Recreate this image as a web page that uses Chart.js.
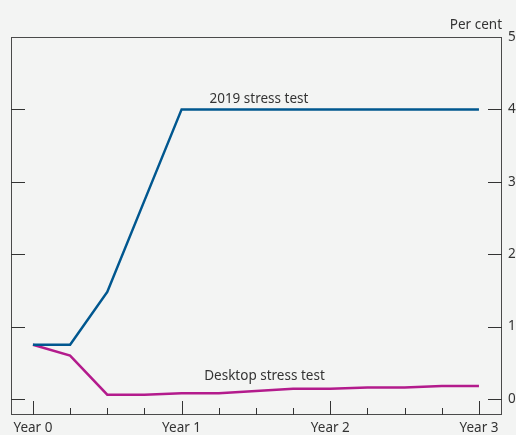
<!DOCTYPE html>
<html>
<head>
<meta charset="utf-8">
<script src="https://cdn.jsdelivr.net/npm/chart.js@4/dist/chart.umd.min.js"></script>
<style>
  html, body { margin: 0; padding: 0; background: #f3f4f3; }
  #wrap { width: 516px; height: 435px; }
</style>
</head>
<body>
<div id="wrap"><canvas id="stress-chart"></canvas></div>
<script>
// quarters since start of scenario
var quarters = [0, 1, 2, 3, 4, 5, 6, 7, 8, 9, 10, 11, 12];
var stress2019 = [0.75, 0.75, 1.48, 2.74, 4.0, 4.0, 4.0, 4.0, 4.0, 4.0, 4.0, 4.0, 4.0];
var desktopStress = [0.75, 0.6, 0.06, 0.06, 0.08, 0.08, 0.11, 0.14, 0.14, 0.16, 0.16, 0.18, 0.18];
var yearTicks = [0, 4, 8, 12];
var yearLabels = ['Year 0', 'Year 1', 'Year 2', 'Year 3'];
var yTicks = [0, 1, 2, 3, 4, 5];

// inline series labels (quarter, value)
var seriesLabels = [
  { text: '2019 stress test', x: 6.08, y: 4.14 },
  { text: 'Desktop stress test', x: 6.23, y: 0.31 }
];

var FONT = '"Noto Sans", "Open Sans", sans-serif';
var FSIZE = 13.5;
var INK = '#333333';

function toPoints(xs, ys) {
  return xs.map(function (x, i) { return { x: x, y: ys[i] }; });
}

var boxAndTicks = {
  id: 'boxAndTicks',
  afterDatasetsDraw: function (chart) {
    var c = chart.ctx, a = chart.chartArea;
    var xs = chart.scales.x, ys = chart.scales.y;
    c.save();
    c.strokeStyle = '#4a4a4a';
    c.lineWidth = 1;
    c.strokeRect(a.left + 0.5, a.top + 0.5, a.right - a.left - 1, a.bottom - a.top - 1);

    c.strokeStyle = INK;
    c.beginPath();
    quarters.forEach(function (q) {
      var px = Math.round(xs.getPixelForValue(q)) + 0.5;
      var len = (q % 4 === 0) ? 14 : 7;
      c.moveTo(px, a.bottom);
      c.lineTo(px, a.bottom - len);
    });
    yTicks.forEach(function (v) {
      if (v === 5) return;
      var py = Math.round(ys.getPixelForValue(v)) + 0.5;
      c.moveTo(a.left, py); c.lineTo(a.left + 14, py);
      c.moveTo(a.right, py); c.lineTo(a.right - 14, py);
    });
    c.stroke();

    c.fillStyle = INK;
    c.font = FSIZE + 'px ' + FONT;
    c.textBaseline = 'middle';
    c.textAlign = 'center';
    seriesLabels.forEach(function (l) {
      c.fillText(l.text, xs.getPixelForValue(l.x), ys.getPixelForValue(l.y));
    });
    c.textAlign = 'right';
    c.fillText('Per cent', a.right, a.top - 12);
    c.restore();
  }
};

var ctx = document.getElementById('stress-chart').getContext('2d');
var chart = new Chart(ctx, {
  type: 'line',
  data: {
    datasets: [{
      label: '2019 stress test',
      data: toPoints(quarters, stress2019),
      borderColor: '#00578f',
      borderWidth: 2.5,
      pointRadius: 0,
      tension: 0
    }, {
      label: 'Desktop stress test',
      data: toPoints(quarters, desktopStress),
      borderColor: '#b31b8c',
      borderWidth: 2.5,
      pointRadius: 0,
      tension: 0
    }]
  },
  options: {
    responsive: true,
    maintainAspectRatio: false,
    animation: false,
    layout: { padding: { left: 11, top: 37, right: 0, bottom: 0 } },
    plugins: {
      legend: { display: false },
      tooltip: { enabled: false }
    },
    scales: {
      x: {
        type: 'linear',
        min: -0.59,
        max: 12.62,
        grid: { display: false, drawTicks: false },
        border: { display: false },
        afterBuildTicks: function (scale) {
          scale.ticks = yearTicks.map(function (v) { return { value: v }; });
        },
        afterFit: function (scale) { scale.height = 20; },
        ticks: {
          autoSkip: false,
          maxRotation: 0,
          padding: 5,
          color: INK,
          font: { family: FONT, size: FSIZE },
          callback: function (v) { return yearLabels[yearTicks.indexOf(v)]; }
        }
      },
      y: {
        position: 'right',
        min: -0.221,
        max: 5,
        grid: { display: false, drawTicks: false },
        border: { display: false },
        afterBuildTicks: function (scale) {
          scale.ticks = yTicks.map(function (v) { return { value: v }; });
        },
        afterFit: function (scale) { scale.width = 14; },
        ticks: {
          padding: 6,
          color: INK,
          font: { family: FONT, size: FSIZE }
        }
      }
    }
  },
  plugins: [boxAndTicks]
});
</script>
</body>
</html>
